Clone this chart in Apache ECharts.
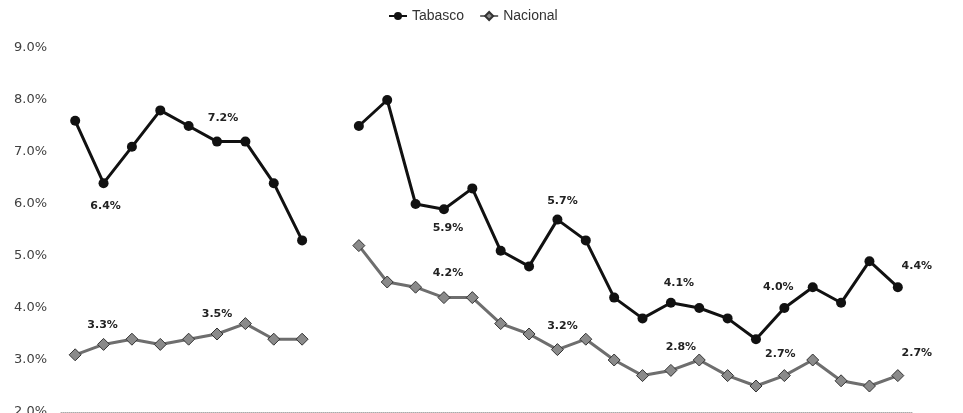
<!DOCTYPE html>
<html>
<head>
<meta charset="utf-8">
<title>Tabasco vs Nacional</title>
<script src="https://cdn.jsdelivr.net/npm/echarts@6/dist/echarts.min.js"></script>
<style>
  html, body { margin: 0; padding: 0; background: #fff; overflow: hidden; }
  #chart { width: 963px; height: 413px; }
</style>
</head>
<body>
<div id="chart"></div>
<script>
// periodos (el eje x no muestra etiquetas en la imagen)
const categorias = ['P1','P2','P3','P4','P5','P6','P7','P8','P9','P10',
  'P11','P12','P13','P14','P15','P16','P17','P18','P19','P20',
  'P21','P22','P23','P24','P25','P26','P27','P28','P29','P30'];

// tasas en %, null = sin dato
const tabasco = [7.6, 6.4, 7.1, 7.8, 7.5, 7.2, 7.2, 6.4, 5.3, null,
  7.5, 8.0, 6.0, 5.9, 6.3, 5.1, 4.8, 5.7, 5.3, 4.2,
  3.8, 4.1, 4.0, 3.8, 3.4, 4.0, 4.4, 4.1, 4.9, 4.4];
const nacional = [3.1, 3.3, 3.4, 3.3, 3.4, 3.5, 3.7, 3.4, 3.4, null,
  5.2, 4.5, 4.4, 4.2, 4.2, 3.7, 3.5, 3.2, 3.4, 3.0,
  2.7, 2.8, 3.0, 2.7, 2.5, 2.7, 3.0, 2.6, 2.5, 2.7];

const ticksY = [2, 3, 4, 5, 6, 7, 8, 9];

// puntos con etiqueta y su desplazamiento [dx, dy]
const etiquetasTabasco = { 1: [2, 23], 5: [6, -23], 13: [4, 19], 17: [5, -18], 21: [8, -20], 25: [-6, -21], 29: [19, -21] };
const etiquetasNacional = { 1: [-1, -19], 5: [0, -20], 13: [4, -24], 17: [5, -23], 21: [10, -23], 25: [-4, -21], 29: [19, -22] };

function conEtiquetas(valores, etiquetas) {
  return valores.map((v, i) => {
    if (etiquetas[i] && v != null) {
      return {
        value: v,
        label: {
          show: true,
          position: 'inside',
          offset: etiquetas[i],
          formatter: p => p.value.toFixed(1) + '%',
          fontFamily: 'DejaVu Sans',
          fontWeight: 'bold',
          fontSize: 11,
          color: '#222'
        }
      };
    }
    return v;
  });
}

const chart = echarts.init(document.getElementById('chart'));
chart.setOption({
  animation: false,
  legend: {
    top: 4,
    left: 383,
    itemWidth: 18,
    itemHeight: 10,
    itemGap: 15,
    textStyle: { fontFamily: 'Liberation Sans', fontSize: 14, color: '#333' },
    data: ['Tabasco', 'Nacional']
  },
  grid: { left: 61, right: 51, top: 48, bottom: 1, containLabel: false, outerBoundsMode: 'none' },
  xAxis: {
    type: 'category',
    data: categorias,
    boundaryGap: true,
    axisLine: { show: true, lineStyle: { color: '#aaa', type: 'dotted', width: 1 } },
    axisTick: { show: false },
    axisLabel: { show: false }
  },
  yAxis: {
    type: 'value',
    min: ticksY[0],
    max: ticksY[ticksY.length - 1],
    interval: 1,
    axisLine: { show: false },
    axisTick: { show: false },
    splitLine: { show: false },
    axisLabel: {
      margin: 14,
      fontFamily: 'DejaVu Sans',
      fontSize: 13,
      color: '#404040',
      formatter: v => v.toFixed(1) + '%'
    }
  },
  series: [
    {
      name: 'Tabasco',
      type: 'line',
      data: conEtiquetas(tabasco, etiquetasTabasco),
      connectNulls: false,
      symbol: 'circle',
      symbolSize: 10,
      lineStyle: { color: '#111', width: 3 },
      itemStyle: { color: '#111' },
      z: 3
    },
    {
      name: 'Nacional',
      type: 'line',
      data: conEtiquetas(nacional, etiquetasNacional),
      connectNulls: false,
      symbol: 'diamond',
      symbolSize: 12,
      lineStyle: { color: '#6e6e6e', width: 3 },
      itemStyle: { color: '#8a8a8a', borderColor: '#333', borderWidth: 1 },
      z: 2
    }
  ]
});
</script>
</body>
</html>
